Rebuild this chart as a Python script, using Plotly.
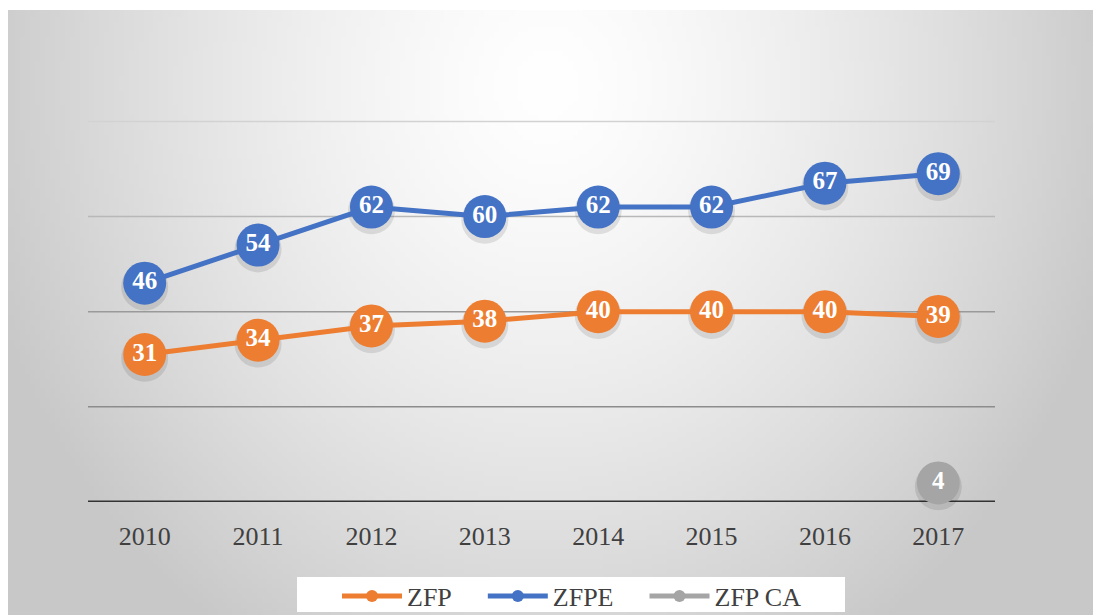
import base64, struct, zlib
import numpy as np
import plotly.graph_objects as go

years = ["2010", "2011", "2012", "2013", "2014", "2015", "2016", "2017"]
zfp = [31, 34, 37, 38, 40, 40, 40, 39]
zfpe = [46, 54, 62, 60, 62, 62, 67, 69]
zfp_ca_years = ["2017"]
zfp_ca = [4]
grid_vals = [20, 40, 60, 80]
grid_colors = ["#8c8c8c", "#9a9a9a", "#b8b8b8", "#d2d2d2"]

ORANGE = "#ED7D31"
BLUE = "#4472C4"
GRAY = "#A5A5A5"
FONT = "Liberation Serif"

W, H = 1093, 615
L, R, T, B = 88, 98, 119, 113
PW, PH = W - L - R, H - T - B
BX, BY = 8, 10  # chart frame offset


def gradient_png(w=220, h=124):
    xs = np.linspace(0, 1, w)[None, :]
    ys = np.linspace(0, 1, h)[:, None]
    d = np.sqrt(((xs - 0.497) / 0.497) ** 2 + ((ys - 0.12) / 1.0) ** 2)
    v = np.clip(255 - 48 * d ** 1.4, 200, 255).astype(np.uint8)
    rgb = np.stack([v, v, v], axis=-1)
    raw = b"".join(b"\x00" + rgb[i].tobytes() for i in range(h))

    def chunk(t, data):
        c = struct.pack(">I", len(data)) + t + data
        return c + struct.pack(">I", zlib.crc32(t + data) & 0xFFFFFFFF)

    png = b"\x89PNG\r\n\x1a\n" + chunk(b"IHDR", struct.pack(">IIBBBBB", w, h, 8, 2, 0, 0, 0))
    png += chunk(b"IDAT", zlib.compress(raw, 9)) + chunk(b"IEND", b"")
    return "data:image/png;base64," + base64.b64encode(png).decode()


fig = go.Figure()

label_font = dict(family=FONT, size=25, color="white")
NB = "\u00a0" * 4


def add_series(x, y, name, color):
    fig.add_trace(go.Scatter(
        x=x, y=[v - 0.8 for v in y], mode="markers", showlegend=False, hoverinfo="skip",
        marker=dict(size=47, color="rgba(0,0,0,0.10)", line=dict(width=0)),
        cliponaxis=False))
    fig.add_trace(go.Scatter(
        x=x, y=y, name=name + NB, mode="lines+markers+text",
        line=dict(color=color, width=5),
        marker=dict(size=43, color=color, line=dict(width=0)),
        text=[f"<b>{v}</b>" for v in y], textposition="middle center",
        textfont=label_font, cliponaxis=False))


add_series(years, zfp, "ZFP", ORANGE)
add_series(years, zfpe, "ZFPE", BLUE)
add_series(zfp_ca_years, zfp_ca, "ZFP CA", GRAY)

shapes = [dict(type="line", xref="paper", yref="y", x0=0, x1=1, y0=g, y1=g,
               line=dict(color=c, width=1.5), layer="below")
          for g, c in zip(grid_vals, grid_colors)]
shapes.append(dict(type="line", xref="paper", yref="y", x0=0, x1=1, y0=0, y1=0,
                   line=dict(color="#333333", width=3), layer="below"))
# white legend box
shapes.append(dict(type="rect", xref="paper", yref="paper",
                   x0=(297 - L) / PW, x1=(845 - L) / PW,
                   y0=(H - B - 612) / PH, y1=(H - B - 577) / PH,
                   fillcolor="white", line=dict(width=0), layer="above"))

fig.update_layout(
    width=W, height=H,
    margin=dict(l=L, r=R, t=T, b=B, autoexpand=False),
    paper_bgcolor="white",
    plot_bgcolor="rgba(0,0,0,0)",
    images=[dict(source=gradient_png(), xref="paper", yref="paper",
                 x=(BX - L) / PW, y=(H - B - BY) / PH, sizex=(W - BX) / PW, sizey=(H - BY) / PH,
                 xanchor="left", yanchor="top", sizing="stretch", layer="below")],
    xaxis=dict(type="category", categoryorder="array", categoryarray=years,
               range=[-0.5, 7.5], showgrid=False, showline=False, zeroline=False,
               ticks="", ticklen=0, ticklabelstandoff=16,
               tickfont=dict(family=FONT, size=26, color="#404040")),
    yaxis=dict(range=[0, 80.5], showticklabels=False, showgrid=False,
               zeroline=False, showline=False, ticks=""),
    legend=dict(orientation="h", x=337 / W, xanchor="left", xref="container",
                y=1 - 596 / H, yref="container", yanchor="middle",
                bgcolor="rgba(0,0,0,0)", font=dict(family=FONT, size=26, color="#404040"),
                itemwidth=60, itemsizing="constant", traceorder="normal"),
    showlegend=True,
    shapes=shapes,
)

fig.write_html("out.html", config={"displayModeBar": False},
               post_script="document.body.style.margin='0';document.body.style.overflow='hidden';")
